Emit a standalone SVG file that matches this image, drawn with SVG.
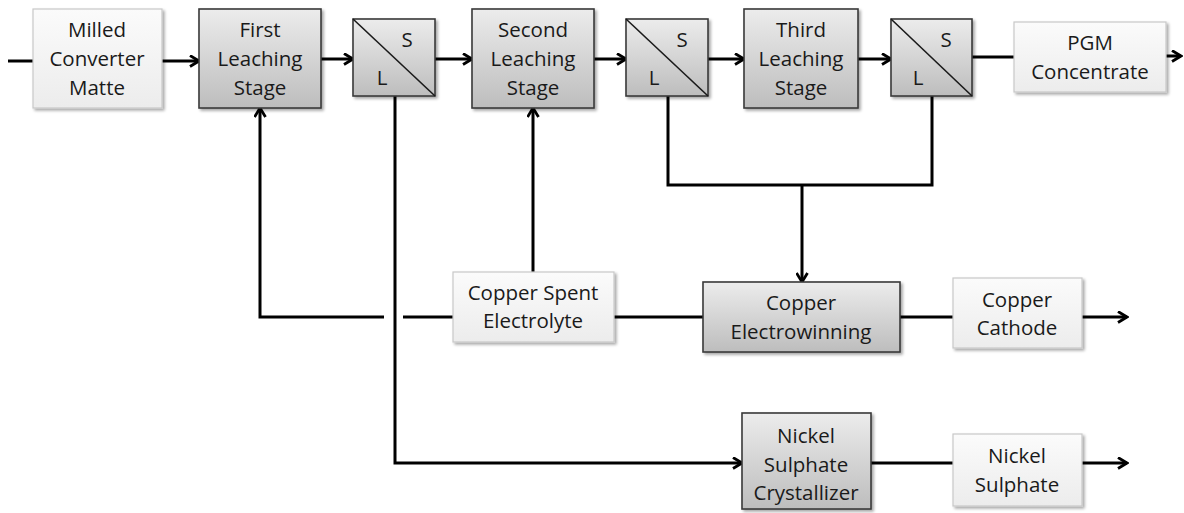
<svg xmlns="http://www.w3.org/2000/svg" width="1184" height="513" viewBox="0 0 1184 513">
  <defs>
    <linearGradient id="gDark" x1="0" y1="0" x2="0" y2="1">
      <stop offset="0" stop-color="#ececec"/>
      <stop offset="1" stop-color="#bdbdbd"/>
    </linearGradient>
    <linearGradient id="gLight" x1="0" y1="0" x2="0" y2="1">
      <stop offset="0" stop-color="#fbfbfb"/>
      <stop offset="1" stop-color="#ececec"/>
    </linearGradient>
    <filter id="shadow" x="-10%" y="-10%" width="125%" height="130%">
      <feGaussianBlur in="SourceAlpha" stdDeviation="1.5"/>
      <feOffset dx="1.5" dy="2" result="b"/>
      <feComponentTransfer><feFuncA type="linear" slope="0.35"/></feComponentTransfer>
      <feMerge><feMergeNode/><feMergeNode in="SourceGraphic"/></feMerge>
    </filter>
    <marker id="arrow" viewBox="0 0 13 13" refX="11" refY="6.5" markerWidth="13" markerHeight="13" markerUnits="userSpaceOnUse" orient="auto">
      <path d="M2,1 L11,6.5 L2,12" fill="none" stroke="#000" stroke-width="2.8" stroke-linejoin="miter"/>
    </marker>
  </defs>
  <style>
    .dark { fill: url(#gDark); stroke: #3a3a3a; stroke-width: 1.6; filter: url(#shadow); }
    .light { fill: url(#gLight); stroke: #c8c8c8; stroke-width: 1.2; filter: url(#shadow); }
    .diag { stroke: #1a1a1a; stroke-width: 1.6; }
    text { font-family: "Open Sans", "Liberation Sans", sans-serif; font-size: 20.5px; fill: #1a1a1a; text-anchor: middle; }
    .conn path, .conn line { fill: none; stroke: #000; stroke-width: 3; }
  </style>
  <rect width="1184" height="513" fill="#fff"/>

  <!-- connectors -->
  <g class="conn">
    <line x1="8" y1="61" x2="33" y2="61"/>
    <line x1="162" y1="61" x2="199" y2="61" marker-end="url(#arrow)"/>
    <line x1="321" y1="59" x2="353" y2="59" marker-end="url(#arrow)"/>
    <line x1="435" y1="59" x2="472" y2="59" marker-end="url(#arrow)"/>
    <line x1="594" y1="59" x2="626" y2="59" marker-end="url(#arrow)"/>
    <line x1="708" y1="59" x2="744" y2="59" marker-end="url(#arrow)"/>
    <line x1="858" y1="59" x2="891" y2="59" marker-end="url(#arrow)"/>
    <line x1="972" y1="57" x2="1014" y2="57"/>
    <line x1="1166" y1="56" x2="1181" y2="56" marker-end="url(#arrow)"/>
    <!-- solids from second and third separators to electrowinning -->
    <path d="M668,96 V185 H932 V96"/>
    <line x1="802" y1="185" x2="802" y2="282" marker-end="url(#arrow)"/>
    <!-- spent electrolyte returns -->
    <line x1="533" y1="272" x2="533" y2="108" marker-end="url(#arrow)"/>
    <path d="M453,317 H260 V108" marker-end="url(#arrow)"/>
    <line x1="614" y1="317" x2="703" y2="317"/>
    <line x1="900" y1="317" x2="953" y2="317"/>
    <line x1="1082" y1="317" x2="1127" y2="317" marker-end="url(#arrow)"/>
    <!-- liquor from first separator to crystallizer, bridged over the return line -->
    <rect x="384" y="306" width="19" height="22" fill="#fff" stroke="none"/>
    <path d="M395,96 V463 H742" marker-end="url(#arrow)"/>
    <line x1="871" y1="463" x2="953" y2="463"/>
    <line x1="1082" y1="463" x2="1127" y2="463" marker-end="url(#arrow)"/>
  </g>

  <g id="milled-matte">
    <rect class="light" x="33" y="9" width="129" height="99"/>
    <text x="97" y="37">Milled</text>
    <text x="97" y="66">Converter</text>
    <text x="97" y="95">Matte</text>
  </g>
  <g id="first-leach">
    <rect class="dark" x="199" y="9" width="122" height="99"/>
    <text x="260" y="37">First</text>
    <text x="260" y="66">Leaching</text>
    <text x="260" y="95">Stage</text>
  </g>
  <g id="sep1">
    <rect class="dark" x="353" y="19" width="82" height="77"/>
    <line class="diag" x1="353" y1="19" x2="435" y2="96"/>
    <text x="407" y="47">S</text>
    <text x="382" y="85">L</text>
  </g>
  <g id="second-leach">
    <rect class="dark" x="472" y="9" width="122" height="99"/>
    <text x="533" y="37">Second</text>
    <text x="533" y="66">Leaching</text>
    <text x="533" y="95">Stage</text>
  </g>
  <g id="sep2">
    <rect class="dark" x="626" y="19" width="82" height="77"/>
    <line class="diag" x1="626" y1="19" x2="708" y2="96"/>
    <text x="682" y="47">S</text>
    <text x="654" y="85">L</text>
  </g>
  <g id="third-leach">
    <rect class="dark" x="744" y="9" width="114" height="99"/>
    <text x="801" y="37">Third</text>
    <text x="801" y="66">Leaching</text>
    <text x="801" y="95">Stage</text>
  </g>
  <g id="sep3">
    <rect class="dark" x="891" y="19" width="81" height="77"/>
    <line class="diag" x1="891" y1="19" x2="972" y2="96"/>
    <text x="946" y="47">S</text>
    <text x="918" y="85">L</text>
  </g>
  <g id="pgm">
    <rect class="light" x="1014" y="22" width="152" height="70"/>
    <text x="1090" y="50">PGM</text>
    <text x="1090" y="79">Concentrate</text>
  </g>
  <g id="spent-electrolyte">
    <rect class="light" x="453" y="272" width="161" height="70"/>
    <text x="533" y="300">Copper Spent</text>
    <text x="533" y="328">Electrolyte</text>
  </g>
  <g id="electrowinning">
    <rect class="dark" x="703" y="282" width="197" height="70"/>
    <text x="801" y="310">Copper</text>
    <text x="801" y="339">Electrowinning</text>
  </g>
  <g id="cathode">
    <rect class="light" x="953" y="278" width="129" height="70"/>
    <text x="1017" y="307">Copper</text>
    <text x="1017" y="335">Cathode</text>
  </g>
  <g id="crystallizer">
    <rect class="dark" x="742" y="413" width="129" height="96"/>
    <text x="806" y="443">Nickel</text>
    <text x="806" y="472">Sulphate</text>
    <text x="806" y="500">Crystallizer</text>
  </g>
  <g id="nickel-sulphate">
    <rect class="light" x="953" y="434" width="129" height="72"/>
    <text x="1017" y="463">Nickel</text>
    <text x="1017" y="492">Sulphate</text>
  </g>
</svg>
